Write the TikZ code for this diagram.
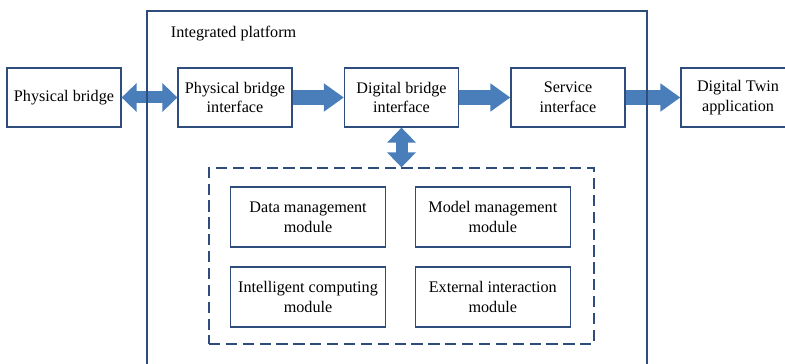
\documentclass[tikz,border=0pt]{standalone}
\usepackage{fontspec}
\setmainfont{Liberation Serif}
\usetikzlibrary{arrows.meta}
\definecolor{boxline}{HTML}{2F4D7C}
\definecolor{arrowblue}{HTML}{4A7EBB}
\tikzset{
	box/.style={draw=boxline, line width=0.9pt, fill=white, align=center, inner sep=1pt,
		minimum width=2.85cm, minimum height=1.475cm, font=\fontsize{11.5}{14}\selectfont},
	module/.style={box, minimum width=3.875cm, minimum height=1.5cm},
	flow/.style={arrowblue, line width=0.375cm, -{Triangle[length=0.5cm, width=0.675cm]}},
	link/.style={arrowblue, line width=0.3cm,
		{Triangle[length=0.375cm, width=0.7cm]}-{Triangle[length=0.375cm, width=0.7cm]}},
}

\begin{document}
\begin{tikzpicture}
	% page: 785px x 364px, 1cm = 40px
	\useasboundingbox (0,0) rectangle (19.625,-9.1);
	
	% chain of interfaces
	\node[box] (bridge) at (1.6,-2.4375) {Physical bridge};
	\node[box] (pbif) at (5.875,-2.4375) {Physical bridge\\interface};
	\node[box] (dbif) at (10.0375,-2.4375) {Digital bridge\\interface};
	\node[box] (servif) at (14.2,-2.4375) {Service\\interface};
	\node[box] (twin) at (18.45,-2.4375) {Digital Twin\\application};
	
	% module group
	\node[draw=boxline, line width=0.9pt, dash pattern=on 8pt off 4pt,
		minimum width=9.625cm, minimum height=4.4cm] (group) at (10.0375,-6.4) {};
	\node[module] (datamod) at (7.7,-5.425) {Data management\\module};
	\node[module] (modelmod) at (12.32,-5.425) {Model management\\module};
	\node[module] (compmod) at (7.7,-7.425) {Intelligent computing\\module};
	\node[module] (extmod) at (12.32,-7.425) {External interaction\\module};
	
	% block arrows
	\draw[link] (bridge.east) -- (pbif.west);
	\draw[flow] (pbif.east) -- (dbif.west);
	\draw[flow] (dbif.east) -- (servif.west);
	\draw[flow] (servif.east) -- (twin.west);
	\draw[link] (dbif.south) -- (group.north);
	
	% platform frame, open at the bottom
	\draw[boxline, line width=0.9pt] (3.675,-9.6) -- (3.675,-0.275) -- (16.175,-0.275) -- (16.175,-9.6);
	\node[anchor=west, font=\fontsize{11.5}{14}\selectfont] (title) at (4.15,-0.85) {Integrated platform};
\end{tikzpicture}
\end{document}
